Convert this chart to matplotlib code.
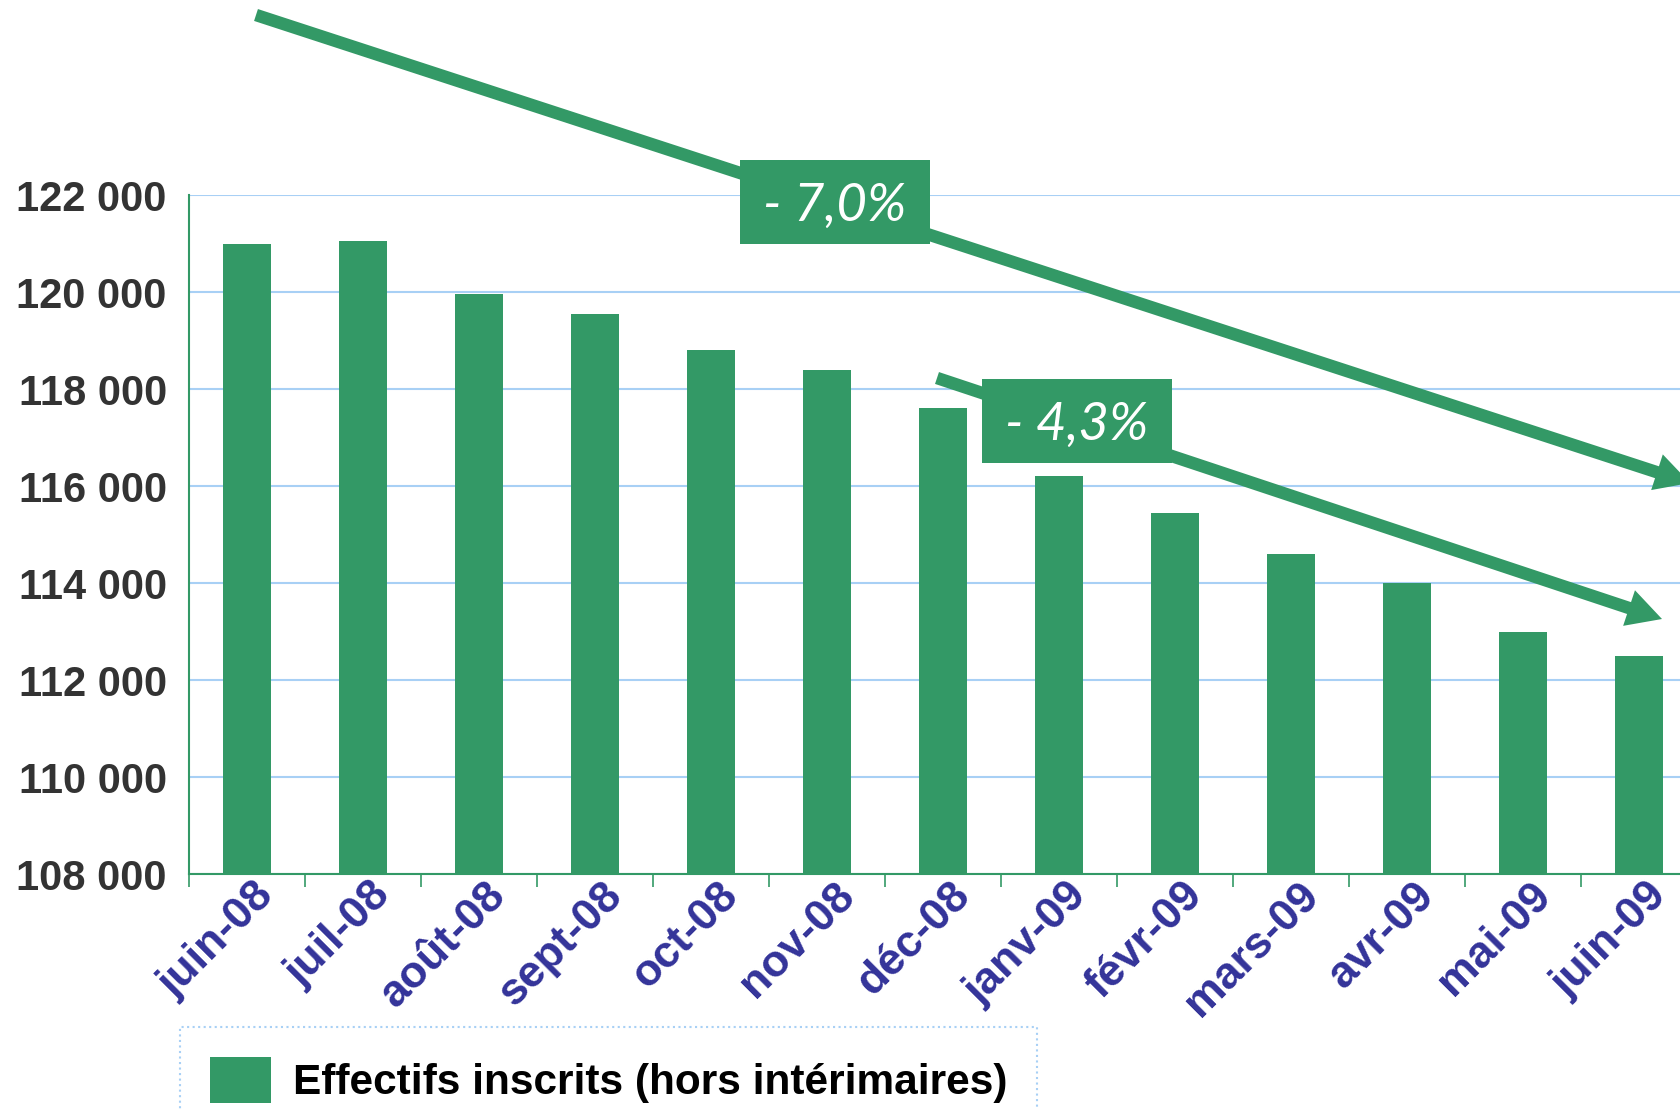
import matplotlib.pyplot as plt
from matplotlib.patches import FancyArrowPatch, Rectangle, ArrowStyle
from matplotlib.ticker import FuncFormatter
from matplotlib.transforms import ScaledTranslation

mois = ['juin-08', 'juil-08', 'août-08', 'sept-08', 'oct-08', 'nov-08', 'déc-08',
        'janv-09', 'févr-09', 'mars-09', 'avr-09', 'mai-09', 'juin-09']
effectifs = [121000, 121050, 119950, 119550, 118800, 118400, 117600,
             116200, 115450, 114600, 114000, 113000, 112500]
graduations = [108000, 110000, 112000, 114000, 116000, 118000, 120000, 122000]
variations = ['- 7,0%', '- 4,3%']
legende = 'Effectifs inscrits (hors intérimaires)'

VERT = '#339966'
BLEU_GRILLE = '#a8d0f5'
W, H = 1681, 1109

plt.rcParams['font.family'] = ['Liberation Sans', 'DejaVu Sans']
plt.rcParams['font.weight'] = 'bold'

fig = plt.figure(figsize=(W / 100, H / 100), dpi=100)
ax = fig.add_axes([189 / W, 235 / H, 1508 / W, 679 / H])

x = list(range(len(mois)))
ax.bar(x, effectifs, width=0.42, color=VERT, label=legende, zorder=3)
ax.set_xlim(-0.5, len(mois) - 0.5)
ax.set_ylim(108000, 122000)

# axe y
ax.set_yticks(graduations)
ax.yaxis.set_major_formatter(FuncFormatter(lambda v, p: f'{v:,.0f}'.replace(',', ' ')))
ax.tick_params(axis='y', length=0, pad=16, labelsize=30, labelcolor='#333333')
ax.grid(axis='y', color=BLEU_GRILLE, lw=1.5, zorder=0)
ax.set_axisbelow(True)

for s in ['top', 'right']:
    ax.spines[s].set_visible(False)
for s in ['left', 'bottom']:
    ax.spines[s].set_color(VERT)
    ax.spines[s].set_linewidth(1.5)

# axe x : etiquettes au centre, graduations entre les barres
ax.set_xticks(x)
ax.set_xticklabels(mois, rotation=45, ha='right', va='center', rotation_mode='anchor',
                   fontsize=32, color='#333399')
ax.tick_params(axis='x', which='major', length=0, pad=0)
ax.set_xticks([i - 0.5 for i in range(len(mois) + 1)], minor=True)
ax.tick_params(axis='x', which='minor', length=9.4, width=1.2, color=VERT)
decalage = ScaledTranslation(0.21, -0.15, fig.dpi_scale_trans)
for lab in ax.get_xticklabels():
    lab.set_transform(lab.get_transform() + decalage)


def px(xp, yp):
    # pixels de l'image -> pouces depuis le bas de la figure
    return (xp / 100, (H - yp) / 100)


# fleches de tendance
fleches = [((256, 15), (1690, 483)), ((937, 378), (1662, 619))]
style = ArrowStyle.Simple(head_length=25, head_width=27, tail_width=9)
for debut, fin in fleches:
    fig.add_artist(FancyArrowPatch(px(*debut), px(*fin), arrowstyle=style,
                                   mutation_scale=1, transform=fig.dpi_scale_trans,
                                   color=VERT, lw=0, shrinkA=0, shrinkB=0, zorder=4))

# etiquettes de variation
boites = [(740, 160), (982, 379)]
for (bx, by), txt in zip(boites, variations):
    fig.add_artist(Rectangle(px(bx, by + 84), 190 / 100, 84 / 100,
                             transform=fig.dpi_scale_trans, color=VERT, lw=0, zorder=5))
    cx, cy = px(bx + 95, by + 46)
    fig.text(cx, cy, txt, transform=fig.dpi_scale_trans, ha='center', va='center',
             color='white', fontsize=38, family=['Lato', 'DejaVu Sans'],
             weight='normal', style='italic', zorder=6)

leg = ax.legend(loc='upper left', bbox_to_anchor=(180 / W, 1 - 1027 / H),
                bbox_transform=fig.transFigure,
                prop=dict(family='Liberation Sans', weight='bold', size=30.5),
                borderpad=0.7, handlelength=1.44, handleheight=1.3,
                handletextpad=0.52, borderaxespad=0, fancybox=False, framealpha=1)
cadre = leg.get_frame()
cadre.set_edgecolor(BLEU_GRILLE)
cadre.set_linestyle(':')
cadre.set_linewidth(1.5)

fig.savefig('out.png', dpi=100)
